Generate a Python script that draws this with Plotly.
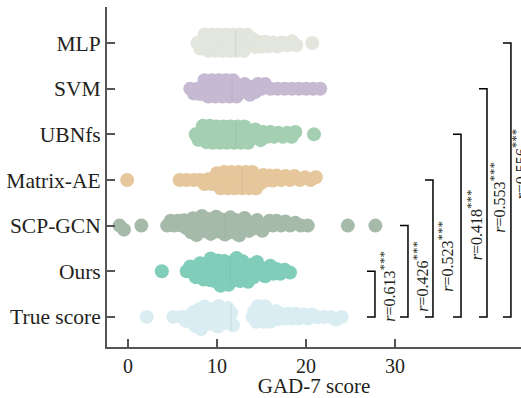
import math
import plotly.graph_objects as go

# ---------------- data ----------------
categories = ["True score", "Ours", "SCP-GCN", "Matrix-AE", "UBNfs", "SVM", "MLP"]
colors = ["#DAEDF2", "#80CDB9", "#A6BAAA", "#E5C79B", "#A4CFB3", "#C6BAD3", "#E3E6DC"]

true_score = [2.1, 5.1, 6.0, 6.5, 6.9, 7.2, 7.4, 7.6, 7.8, 8.0, 8.1, 8.2, 8.4, 8.6, 8.8, 9.0,
              9.2, 9.4, 9.6, 9.8, 10.0, 10.1, 10.2, 10.4, 10.6, 10.8, 11.0, 11.2, 11.4, 11.6,
              11.8,
              14.0, 14.2, 14.4, 14.6, 14.8, 15.0, 15.2, 15.4, 15.6, 15.8, 16.0, 16.3, 16.6,
              16.9, 17.2, 17.6, 18.0, 18.4, 18.8, 19.2, 19.7, 20.2, 20.7, 21.3, 22.0,
              22.8, 23.4, 24.0]
ours = [3.8, 6.6, 7.0, 7.3, 7.6, 7.9, 8.1, 8.3, 8.5, 8.7, 8.9, 9.0, 9.2, 9.3, 9.5, 9.6, 9.8,
        9.9, 10.1, 10.2, 10.4, 10.5, 10.7, 10.8, 11.0, 11.1, 11.3, 11.4, 11.6, 11.7, 11.9,
        12.0, 12.2, 12.3, 12.5, 12.6, 12.8, 12.9, 13.1, 13.3, 13.5, 13.7, 13.9, 14.1, 14.3,
        14.5, 14.8, 15.1, 15.4, 15.7, 16.0, 16.3, 16.7, 17.1, 17.6, 18.2]
scp_gcn = [-0.95, -0.45, 1.5, 4.4, 4.8, 5.2, 5.6, 6.0, 6.3, 6.6, 6.9, 7.1, 7.3, 7.5, 7.7, 7.9,
           8.1, 8.3, 8.5, 8.7, 8.9, 9.1, 9.3, 9.5, 9.7, 9.9, 10.1, 10.3, 10.5, 10.7, 10.9,
           11.1, 11.3, 11.5, 11.7, 11.9, 12.1, 12.3, 12.5, 12.7, 12.9, 13.1, 13.3, 13.6, 13.9,
           14.2, 14.5, 14.8, 15.1, 15.5, 15.9, 16.3, 16.7, 17.2, 17.7, 18.2, 18.8, 19.4, 20.2,
           24.7, 27.8]
matrix_ae = [-0.1, 5.8, 6.6, 7.4, 8.1, 8.6, 9.0, 9.4, 9.7, 10.0, 10.2, 10.4, 10.6, 10.8, 11.0,
             11.2, 11.4, 11.6, 11.8, 12.0, 12.2, 12.4, 12.6, 12.8, 13.0, 13.2, 13.4, 13.6, 13.8,
             14.0, 14.2, 14.4, 14.6, 14.9, 15.2, 15.5, 15.9, 16.3, 16.7, 17.2, 17.7, 18.2, 18.7,
             19.3, 19.9, 20.5, 21.1]
ubnfs = [7.6, 7.9, 8.2, 8.4, 8.6, 8.8, 9.0, 9.2, 9.3, 9.5, 9.7, 9.9, 10.1, 10.3, 10.5, 10.7,
         10.9, 11.1, 11.3, 11.5, 11.7, 11.9, 12.1, 12.3, 12.5, 12.7, 12.9, 13.1, 13.3, 13.5,
         13.7, 14.0, 14.3, 14.6, 14.9, 15.2, 15.6, 16.0, 16.4, 16.9, 17.4, 17.9, 18.4, 18.8, 20.9]
svm = [7.0, 7.4, 7.8, 8.1, 8.4, 8.6, 8.8, 9.0, 9.2, 9.4, 9.6, 9.8, 10.0, 10.2, 10.4, 10.6,
       10.8, 11.0, 11.2, 11.4, 11.6, 11.8, 12.0, 12.2, 12.5, 12.8, 13.1, 13.4, 13.7, 14.0,
       14.3, 14.6, 15.0, 15.4, 16.0, 16.8, 17.6, 18.4, 19.2, 20.0, 20.8, 21.6]
mlp = [7.8, 8.1, 8.4, 8.6, 8.8, 9.0, 9.2, 9.4, 9.6, 9.8, 10.0, 10.2, 10.4, 10.6, 10.8, 11.0,
       11.2, 11.4, 11.6, 11.8, 12.0, 12.2, 12.4, 12.6, 12.8, 13.0, 13.2, 13.4, 13.7, 14.0,
       14.3, 14.6, 15.0, 15.4, 15.8, 16.3, 16.8, 17.3, 17.9, 18.4, 18.9, 20.7]

series = [true_score, ours, scp_gcn, matrix_ae, ubnfs, svm, mlp]

# correlation with the true score, one per compared model (bracket to "True score")
r_models = ["Ours", "SCP-GCN", "Matrix-AE", "UBNfs", "SVM", "MLP"]
r_values = ["0.613", "0.426", "0.523", "0.418", "0.553", "0.556"]

x_ticks = [0, 10, 20, 30]

# ---------------- layout constants ----------------
W, H = 521, 398
ML, MR, MT, MB = 107, 0, 7, 51
X_RANGE = [-2.36, 44.16]
Y_RANGE = [-0.66, 6.79]
PX_X = (W - ML - MR) / (X_RANGE[1] - X_RANGE[0])
PX_Y = (H - MT - MB) / (Y_RANGE[1] - Y_RANGE[0])
MARKER = 14
SWARM_D = 6.0  # min centre distance in px for swarm layout

FONT = "Liberation Serif, Times New Roman, serif"
TXT = "#231F20"
AXC = "#555555"


def swarm_offsets(values, d):
    order = sorted(range(len(values)), key=lambda i: values[i])
    placed = []
    offs = [0.0] * len(values)
    for k, i in enumerate(order):
        x = values[i] * PX_X
        cands = [0.0]
        near = [(px, py) for (px, py) in placed if abs(px - x) < d]
        for px, py in near:
            h = math.sqrt(d * d - (x - px) ** 2)
            cands += [py + h, py - h]
        sgn = 1 if k % 2 == 0 else -1
        cands.sort(key=lambda c: (round(abs(c), 6), -sgn * c))
        chosen = 0.0
        for c in cands:
            if all((x - px) ** 2 + (c - py) ** 2 >= d * d - 1e-6 for px, py in near):
                chosen = c
                break
        placed.append((x, chosen))
        offs[i] = chosen
    return [o / PX_Y for o in offs]


def median(vals):
    s = sorted(vals)
    n = len(s)
    return s[n // 2] if n % 2 else 0.5 * (s[n // 2 - 1] + s[n // 2])


fig = go.Figure()
for idx, (vals, col) in enumerate(zip(series, colors)):
    offs = swarm_offsets(vals, SWARM_D)
    fig.add_trace(go.Scatter(
        x=vals, y=[idx + o for o in offs], mode="markers",
        marker=dict(size=MARKER, color=col, line=dict(width=0)),
        showlegend=False, hoverinfo="x",
    ))
    med = median(vals)
    fig.add_shape(type="line", x0=med, x1=med, y0=idx - 0.28, y1=idx + 0.28,
                  xref="x", yref="y", line=dict(color="rgba(130,130,130,0.16)", width=1))

# brackets
BR_X = [27.75, 31.46, 34.27, 37.42, 40.34, 43.03]
BR_TICK = 0.9
LABEL_Y = [0.68, 0.90, 1.34, 2.01, 2.61, 3.36]
LABEL_DX = [12, 12, 12, 13, 10, 8]
y_true = categories.index("True score")
for bx, model, rv, ly, dx in zip(BR_X, r_models, r_values, LABEL_Y, LABEL_DX):
    yt = categories.index(model)
    path = f"M {bx - BR_TICK},{yt} L {bx},{yt} L {bx},{y_true} L {bx - BR_TICK},{y_true}"
    fig.add_shape(type="path", path=path, xref="x", yref="y",
                  line=dict(color="black", width=1.5))
    fig.add_annotation(x=bx, y=ly, xref="x", yref="y", xshift=dx,
                       text="<i>r</i>=" + rv
                            + "<sup><span style='font-size:13px;color:#231F20'>***</span></sup>",
                       textangle=-90, showarrow=False,
                       font=dict(family=FONT, size=16, color=TXT))

fig.update_layout(
    width=W, height=H,
    margin=dict(l=ML, r=MR, t=MT, b=MB, pad=0, autoexpand=False),
    plot_bgcolor="white", paper_bgcolor="white",
    font=dict(family=FONT, size=21, color=TXT),
    showlegend=False,
)
fig.update_xaxes(range=X_RANGE, tickvals=x_ticks, ticks="inside", ticklen=8, tickwidth=1.5,
                 tickcolor=AXC, showline=True, linecolor=AXC, linewidth=2, showgrid=False,
                 zeroline=False, automargin=False,
                 title=dict(text="GAD-7 score", standoff=7,
                            font=dict(family=FONT, size=21, color=TXT)),
                 tickfont=dict(family=FONT, size=20, color=TXT))
fig.update_yaxes(range=Y_RANGE, tickvals=list(range(len(categories))), ticktext=categories,
                 ticks="inside", ticklen=8, tickwidth=1.5, tickcolor=AXC, showline=True,
                 linecolor=AXC, linewidth=2, showgrid=False, zeroline=False, automargin=False,
                 tickfont=dict(family=FONT, size=21.5, color=TXT))

fig.write_html(
    "out.html",
    config={"displayModeBar": False},
    post_script="document.body.style.margin='0';document.body.style.overflow='hidden';",
)
